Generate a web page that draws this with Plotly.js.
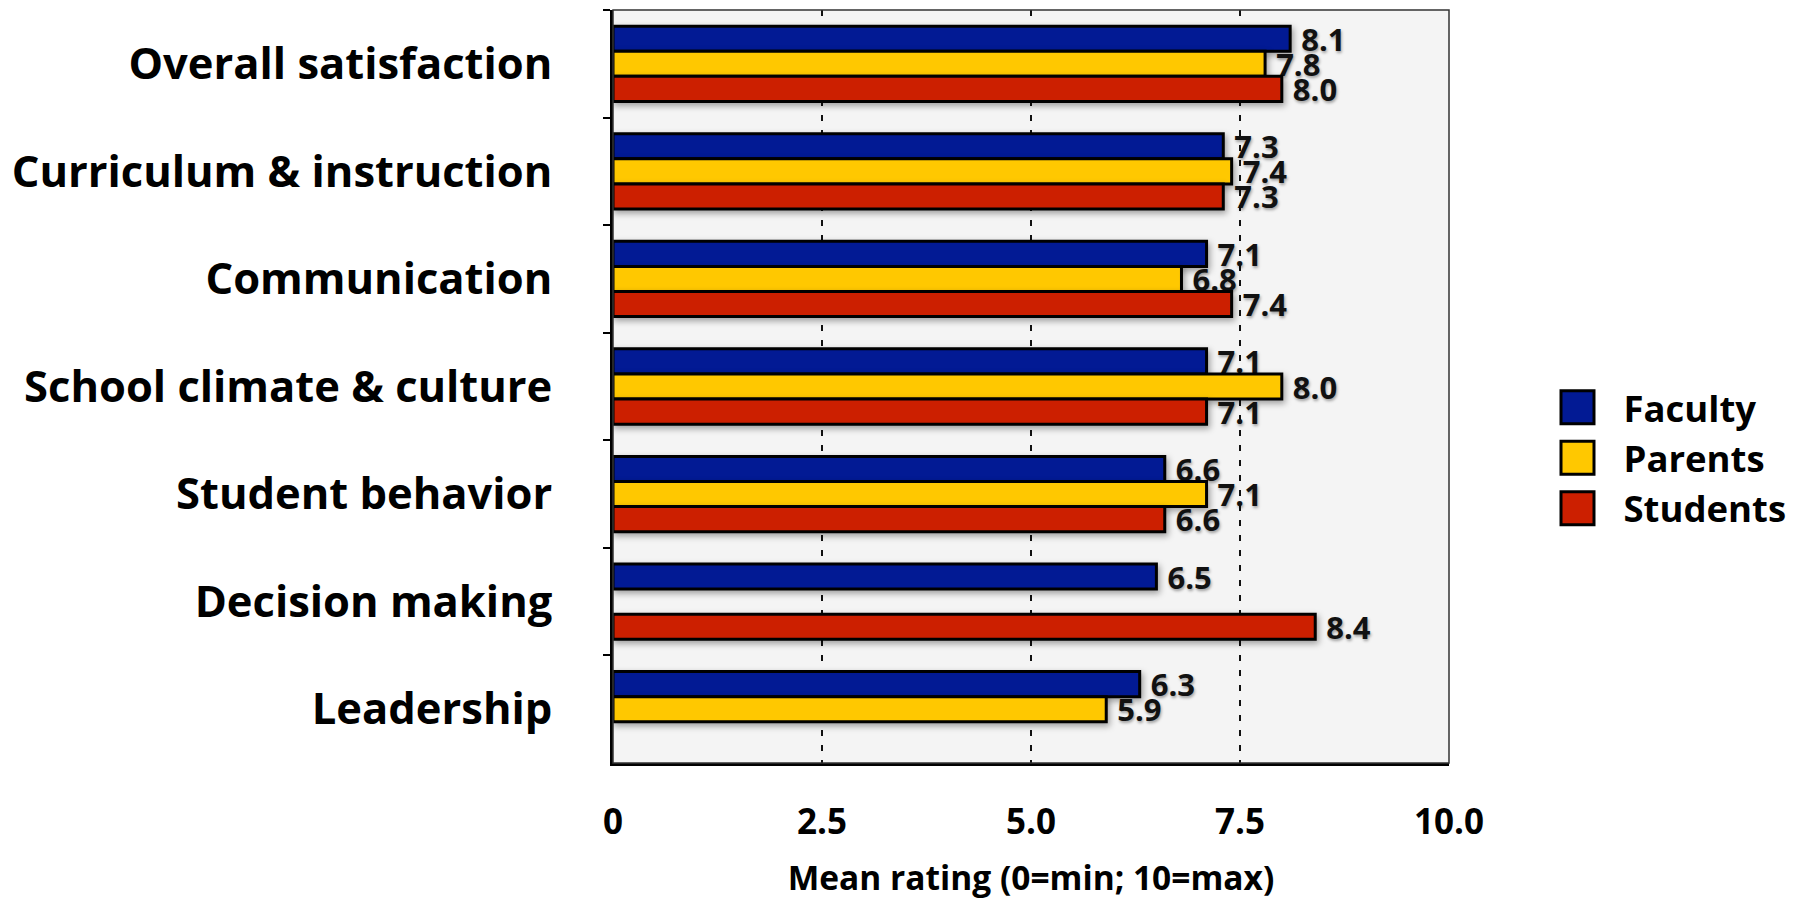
<!DOCTYPE html>
<html>
<head>
<meta charset="utf-8">
<script src="https://cdn.plot.ly/plotly-3.0.1.min.js"></script>
<style>
  html, body { margin: 0; padding: 0; background: #ffffff; }
  #chart { width: 1805px; height: 900px; }
  .barlayer .point path { filter: drop-shadow(2px 3px 3px rgba(0,0,0,0.35)); }
</style>
</head>
<body>
<div id="chart"></div>
<script>
const categories = [
  "Overall satisfaction",
  "Curriculum & instruction",
  "Communication",
  "School climate & culture",
  "Student behavior",
  "Decision making",
  "Leadership"
];
const seriesNames = ["Faculty", "Parents", "Students"];
const faculty  = [8.1, 7.3, 7.1, 7.1, 6.6, 6.5, 6.3];
const parents  = [7.8, 7.4, 6.8, 8.0, 7.1, null, 5.9];
const students = [8.0, 7.3, 7.4, 7.1, 6.6, 8.4, null];
const seriesColors = ["#021a94", "#ffc800", "#cc1f00"];
const xTickVals = [0, 2.5, 5, 7.5, 10];
const xTickText = ["0", "2.5", "5.0", "7.5", "10.0"];
const xTitle = "Mean rating (0=min; 10=max)";

const FONT = "Open Sans, Lato, DejaVu Sans, sans-serif";
const seriesValues = [faculty, parents, students];

const traces = seriesValues.map((vals, i) => ({
  type: "bar",
  orientation: "h",
  name: seriesNames[i],
  y: categories,
  x: vals,
  marker: { color: seriesColors[i], line: { color: "#000000", width: 3 } },
  text: vals.map(v => v == null ? "" : v.toFixed(1)),
  texttemplate: "\u00a0%{text}",
  textposition: "outside",
  constraintext: "none",
  cliponaxis: false,
  textfont: { family: FONT, size: 31, weight: 700, color: "#111111",
              shadow: "1px 2px 3px rgba(0,0,0,0.35)" },
  hoverinfo: "x+name"
}));

const layout = {
  width: 1805,
  height: 900,
  margin: { l: 613, r: 356, t: 10, b: 137 },
  paper_bgcolor: "#ffffff",
  plot_bgcolor: "#f4f4f4",
  barmode: "group",
  bargap: 0.3,
  bargroupgap: 0,
  showlegend: true,
  legend: {
    x: 1.125, xanchor: "left",
    y: 0.405, yanchor: "middle",
    traceorder: "normal",
    itemwidth: 60,
    font: { family: FONT, size: 36.5, weight: 700, color: "#000000" },
    bgcolor: "rgba(0,0,0,0)"
  },
  xaxis: {
    range: [0, 10],
    tickmode: "array",
    tickvals: xTickVals,
    ticktext: xTickText,
    ticks: "",
    ticklabelstandoff: 26,
    tickfont: { family: FONT, size: 35, weight: 700, color: "#000000" },
    showgrid: true,
    gridcolor: "#111111",
    gridwidth: 1.5,
    griddash: "6px,9px",
    zeroline: false,
    showline: true,
    linecolor: "#000000",
    linewidth: 3,
    fixedrange: true,
    title: {
      text: xTitle,
      font: { family: FONT, size: 33.5, weight: 700, color: "#000000" },
      standoff: 46
    }
  },
  yaxis: {
    type: "category",
    autorange: "reversed",
    showgrid: false,
    zeroline: false,
    showline: true,
    linecolor: "#000000",
    linewidth: 3,
    ticks: "outside",
    tickson: "boundaries",
    ticklen: 7,
    tickwidth: 2,
    tickcolor: "#000000",
    ticklabelstandoff: 49,
    tickfont: { family: FONT, size: 43.5, weight: 700, color: "#000000" },
    fixedrange: true
  },
  shapes: [{
    type: "rect", xref: "paper", yref: "paper",
    x0: 0, x1: 1, y0: 0, y1: 1,
    line: { color: "#333333", width: 1.5 },
    layer: "above"
  }]
};

Plotly.newPlot("chart", traces, layout, { displayModeBar: false, staticPlot: true }).then(() => {
  document.querySelectorAll(".legend .legendpoints path").forEach(p => {
    p.setAttribute("d", "M5.5,16.5H-27.5V-16.5H5.5Z");
    p.style.strokeWidth = "3px";
    p.style.stroke = "#000000";
  });
});
</script>
</body>
</html>
